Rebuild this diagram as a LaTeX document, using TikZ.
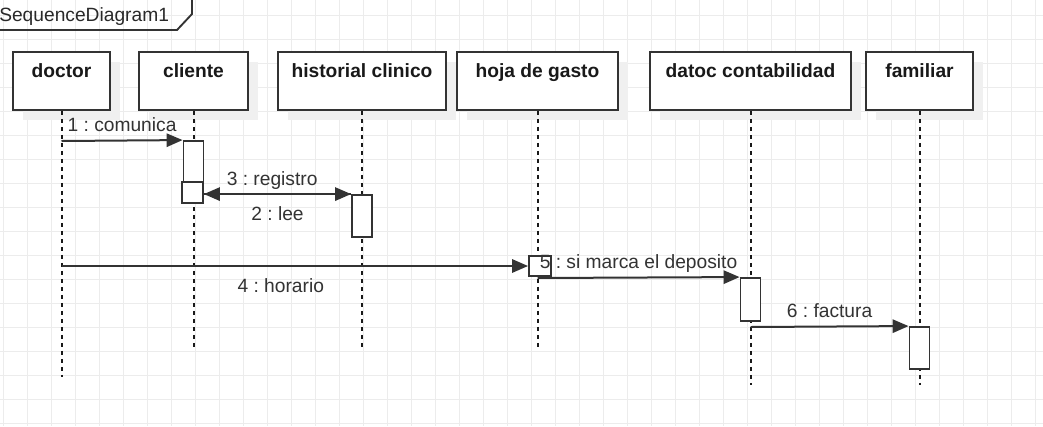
\documentclass[tikz,border=0pt]{standalone}
\usepackage{fontspec}
\setmainfont{Liberation Sans}
\usetikzlibrary{arrows.meta, shadows}
\definecolor{UmlLine}{HTML}{333333}
\definecolor{UmlGrid}{HTML}{ECECEC}

\begin{document}
\frenchspacing
\begin{tikzpicture}[
        x=0.75pt, y=-0.75pt,
        font=\fontsize{14.4}{17}\selectfont, text=UmlLine!80!black,
        lifebox/.style={draw=UmlLine, line width=1.4pt, fill=white, anchor=north, font=\fontsize{14.4}{17}\selectfont\bfseries, text=black!90, text height=19.5pt, text depth=24pt, inner ysep=0pt, drop shadow={shadow xshift=7.5pt, shadow yshift=-7.5pt, fill=black!6, opacity=1}},
        activation/.style={draw=UmlLine, line width=1.4pt, fill=white, minimum width=15pt, inner sep=0pt},
        lifeline/.style={black!90, line width=1.5pt, dash pattern=on 3pt off 3pt},
        msg/.style={-{Triangle[length=12pt, width=10pt]}, UmlLine, line width=1.5pt},
        above lbl/.style={anchor=base, yshift=6.75pt},
        below lbl/.style={anchor=base, yshift=-19.5pt}
    ]
    \useasboundingbox (0,0) rectangle (1043,426);
    \clip (0,0) rectangle (1043,426);
    \fill[white] (0,0) rectangle (1043,426);
    \draw[UmlGrid, line width=0.7pt, shift={(3,15)}] (-3,-15) grid[step=18pt] (1040,411);

    \draw[UmlLine, line width=1.4pt] (-2,30) -- (177,30) -- (192,14) -- (192,-2);
    \node[anchor=base west, inner sep=0pt] (title) at (-1,21) {SequenceDiagram1};

    \node[lifebox, minimum width=72.75pt] (doctor) at (61.5,51) {doctor};
    \node[lifebox, minimum width=81.75pt] (cliente) at (193.5,51) {cliente};
    \node[lifebox, minimum width=126pt] (historial) at (362,51) {historial clinico};
    \node[lifebox, minimum width=120.75pt] (hoja) at (537.5,51) {hoja de gasto};
    \node[lifebox, minimum width=150.75pt] (datoc) at (750.5,51) {datoc contabilidad};
    \node[lifebox, minimum width=80.25pt] (familiar) at (919.5,51) {familiar};

    \draw[lifeline] (doctor.south) -- (doctor.south |- 0,377);
    \draw[lifeline] (cliente.south) -- (cliente.south |- 0,350);
    \draw[lifeline] (historial.south) -- (historial.south |- 0,350);
    \draw[lifeline] (hoja.south) -- (hoja.south |- 0,350);
    \draw[lifeline] (datoc.south) -- (datoc.south |- 0,385);
    \draw[lifeline] (familiar.south) -- (familiar.south |- 0,385);

    \node[activation, minimum height=46.5pt] (act1) at (193.5,172) {};
    \node[activation, minimum width=15.75pt, minimum height=15.75pt] (act2) at (192.5,192.5) {};
    \node[activation, minimum height=31.5pt] (act3) at (362,216) {};
    \node[activation, minimum width=16.5pt, minimum height=15pt] (act4) at (540,266) {};
    \node[activation, minimum height=32.25pt] (act5) at (750.5,299.5) {};
    \node[activation, minimum height=31.5pt] (act6) at (919.5,348) {};

    \coordinate (s1) at (61.5,141);
    \coordinate (s4) at (61.5,266);
    \coordinate (s5) at (537.5,278);
    \coordinate (s6) at (750.5,327);

    \draw[msg] (s1) -- node[above lbl]{1 : comunica} (act1.north west);
    \draw[msg] (act2.east |- act3.north west) -- node[below lbl]{2 : lee} (act3.north west);
    \draw[msg] (act3.north west) -- node[above lbl, xshift=-4pt]{3 : registro} (act2.east |- act3.north west);
    \draw[msg] (s4) -- node[below lbl, pos=0.47]{4 : horario} (act4.west);
    \draw[msg] (s5) -- node[above lbl]{5 : si marca el deposito} (act5.north west);
    \draw[msg] (s6) -- node[above lbl]{6 : factura} (act6.north west);
\end{tikzpicture}
\end{document}
